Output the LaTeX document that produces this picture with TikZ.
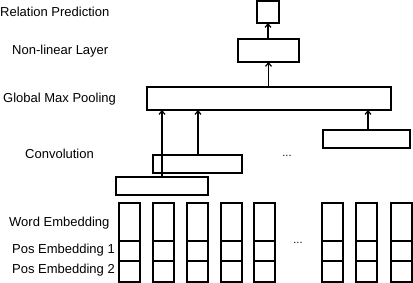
\documentclass[tikz,border=0pt]{standalone}
\usepackage{fontspec}
\setmainfont{Liberation Sans}
\usetikzlibrary{arrows.meta,calc}
\begin{document}
\begin{tikzpicture}[x=1pt,y=-1pt,
  box/.style={draw,line width=1.2pt,inner sep=0pt,outer sep=0pt,anchor=north west},
  lab/.style={anchor=west,inner sep=0pt,font=\fontsize{13}{15}\selectfont},
  arr/.style={line width=1.2pt,-{Straight Barb[length=3.5pt,width=6pt]}},
  dots/.style={inner sep=0pt,font=\fontsize{11}{13}\selectfont}]
\useasboundingbox (0,0) rectangle (413,283);
% labels
\node[lab] (l1) at (0,12) {Relation Prediction};
\node[lab] (l2) at (12,51) {Non-linear Layer};
\node[lab] (l3) at (3,99) {Global Max Pooling};
\node[lab] (l4) at (25,154) {Convolution};
\node[lab] (l5) at (9,223) {Word Embedding};
\node[lab] (l6) at (12,250) {Pos Embedding 1};
\node[lab] (l7) at (12,270) {Pos Embedding 2};
% boxes
\node[box,minimum width=22pt,minimum height=22pt] (out) at (257,1) {};
\node[box,minimum width=61pt,minimum height=23pt] (nl) at (238,39) {};
\node[box,minimum width=244pt,minimum height=23pt] (gmp) at (147,87) {};
\node[box,minimum width=87pt,minimum height=18pt] (c3) at (323,130) {};
\node[box,minimum width=89pt,minimum height=18pt] (c2) at (153,155) {};
\node[box,minimum width=92pt,minimum height=18pt] (c1) at (116,177) {};
\node[dots] (d1) at (287,156) {...};
\node[dots] (d2) at (298,243) {...};
% columns
\foreach \i/\x in {1/119,2/153,3/187,4/221,5/254,6/322,7/356,8/391}{
  \node[box,minimum width=21pt,minimum height=38pt] (w\i) at (\x,203) {};
  \node[box,minimum width=21pt,minimum height=20pt] (p\i) at (\x,241) {};
  \node[box,minimum width=21pt,minimum height=21pt] (q\i) at (\x,261) {};
}
% arrows
\coordinate (a1) at (162,0);
\coordinate (a2) at (198,0);
\coordinate (a3) at (368,0);
\draw[arr] (c1.north -| a1) -- (gmp.south -| a1);
\draw[arr] (c2.north -| a2) -- (gmp.south -| a2);
\draw[arr] (c3.north -| a3) -- (gmp.south -| a3);
\draw[arr] (gmp.north -| nl.south) -- (nl.south);
\draw[arr] (nl.north -| out.south) -- (out.south);
\end{tikzpicture}
\end{document}
